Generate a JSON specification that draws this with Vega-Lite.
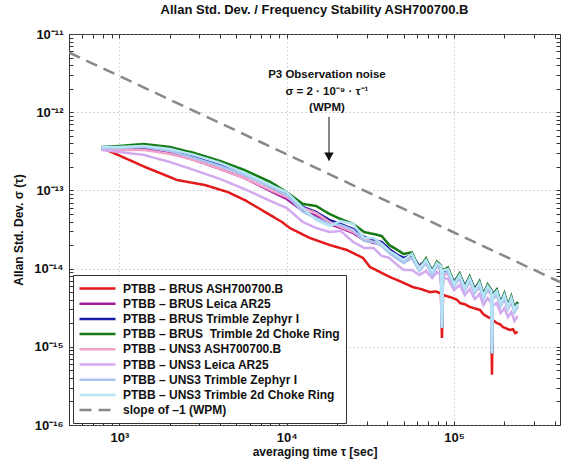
{
 "$schema": "https://vega.github.io/schema/vega-lite/v6.json",
 "width": 491, "height": 391,
 "autosize": {"type": "none"},
 "padding": {"left": 69, "top": 34, "right": 3, "bottom": 40},
 "background": "white",
 "config": {"view": {"stroke": "#333", "strokeWidth": 1}, "font": "Liberation Sans"},
 "title": {"text": "Allan Std. Dev. / Frequency Stability ASH700700.B", "font": "Liberation Sans", "fontSize": 13, "fontWeight": "bold", "color": "#111", "anchor": "middle", "offset": 11},
 "datasets": {
  "series": [
   {"s":"s1","t":780,"v":3.49e-13},{"s":"s1","t":982,"v":2.84e-13},{"s":"s1","t":1425,"v":1.99e-13},{"s":"s1","t":2208,"v":1.36e-13},{"s":"s1","t":3250,"v":1.17e-13},{"s":"s1","t":4460,"v":9.5e-14},{"s":"s1","t":5630,"v":7.5e-14},{"s":"s1","t":7110,"v":5.6e-14},{"s":"s1","t":9370,"v":3.94e-14},{"s":"s1","t":10450,"v":3.3e-14},{"s":"s1","t":13760,"v":2.46e-14},{"s":"s1","t":18130,"v":2.0e-14},{"s":"s1","t":22900,"v":1.73e-14},{"s":"s1","t":28560,"v":1.37e-14},{"s":"s1","t":31430,"v":1.05e-14},{"s":"s1","t":36060,"v":9.05e-15},{"s":"s1","t":41400,"v":7.8e-15},{"s":"s1","t":47500,"v":6.9e-15},{"s":"s1","t":56800,"v":5.8e-15},{"s":"s1","t":63000,"v":5.5e-15},{"s":"s1","t":71800,"v":5.0e-15},{"s":"s1","t":78000,"v":5.1e-15},{"s":"s1","t":83500,"v":4.8e-15},{"s":"s1","t":84700,"v":1.3e-15},{"s":"s1","t":86000,"v":4.6e-15},{"s":"s1","t":92000,"v":4.4e-15},{"s":"s1","t":98600,"v":4.2e-15},{"s":"s1","t":104000,"v":4.0e-15},{"s":"s1","t":108600,"v":3.63e-15},{"s":"s1","t":116000,"v":3.5e-15},{"s":"s1","t":124500,"v":3.23e-15},{"s":"s1","t":133000,"v":3.1e-15},{"s":"s1","t":143000,"v":2.96e-15},{"s":"s1","t":150000,"v":2.6e-15},{"s":"s1","t":159500,"v":2.4e-15},{"s":"s1","t":167000,"v":2.3e-15},{"s":"s1","t":168600,"v":4.4e-16},{"s":"s1","t":170200,"v":2.2e-15},{"s":"s1","t":180400,"v":2.01e-15},{"s":"s1","t":188000,"v":1.95e-15},{"s":"s1","t":196000,"v":1.79e-15},{"s":"s1","t":205000,"v":1.72e-15},{"s":"s1","t":215900,"v":1.64e-15},{"s":"s1","t":225000,"v":1.68e-15},{"s":"s1","t":232000,"v":1.5e-15},{"s":"s1","t":240000,"v":1.55e-15},

   {"s":"s2","t":780,"v":3.39e-13},{"s":"s2","t":1000,"v":3.39e-13},{"s":"s2","t":1400,"v":3.39e-13},{"s":"s2","t":2000,"v":3.01e-13},{"s":"s2","t":2800,"v":2.45e-13},{"s":"s2","t":4000,"v":1.88e-13},{"s":"s2","t":5600,"v":1.44e-13},{"s":"s2","t":8000,"v":9.8e-14},{"s":"s2","t":10000,"v":7.76e-14},{"s":"s2","t":12500,"v":5.46e-14},{"s":"s2","t":15000,"v":4.71e-14},{"s":"s2","t":18000,"v":3.72e-14},{"s":"s2","t":21000,"v":3.31e-14},{"s":"s2","t":25000,"v":2.85e-14},{"s":"s2","t":29000,"v":2.32e-14},{"s":"s2","t":33000,"v":2.13e-14},{"s":"s2","t":37000,"v":2.06e-14},{"s":"s2","t":41000,"v":1.63e-14},{"s":"s2","t":45000,"v":1.45e-14},{"s":"s2","t":50000,"v":1.25e-14},{"s":"s2","t":56000,"v":1.37e-14},{"s":"s2","t":62000,"v":1.02e-14},{"s":"s2","t":68000,"v":1.18e-14},{"s":"s2","t":74000,"v":8.79e-15},{"s":"s2","t":79000,"v":1.08e-14},{"s":"s2","t":83500,"v":9.89e-15},{"s":"s2","t":84700,"v":1.74e-15},{"s":"s2","t":86000,"v":8.53e-15},{"s":"s2","t":88000,"v":8.53e-15},{"s":"s2","t":92000,"v":8.79e-15},{"s":"s2","t":100000,"v":6.17e-15},{"s":"s2","t":108000,"v":7.58e-15},{"s":"s2","t":116000,"v":5.48e-15},{"s":"s2","t":124000,"v":6.94e-15},{"s":"s2","t":133000,"v":5.02e-15},{"s":"s2","t":142000,"v":5.99e-15},{"s":"s2","t":150000,"v":4.33e-15},{"s":"s2","t":159000,"v":5.48e-15},{"s":"s2","t":167000,"v":4.73e-15},{"s":"s2","t":168600,"v":8.3e-16},{"s":"s2","t":170200,"v":4.21e-15},{"s":"s2","t":180000,"v":4.73e-15},{"s":"s2","t":190000,"v":3.42e-15},{"s":"s2","t":200000,"v":4.21e-15},{"s":"s2","t":210000,"v":3.13e-15},{"s":"s2","t":220000,"v":3.85e-15},{"s":"s2","t":230000,"v":2.87e-15},{"s":"s2","t":240000,"v":3.32e-15},

   {"s":"s3","t":780,"v":3.49e-13},{"s":"s3","t":1000,"v":3.59e-13},{"s":"s3","t":1400,"v":3.59e-13},{"s":"s3","t":2000,"v":3.29e-13},{"s":"s3","t":2800,"v":2.68e-13},{"s":"s3","t":4000,"v":2.11e-13},{"s":"s3","t":5600,"v":1.62e-13},{"s":"s3","t":8000,"v":1.11e-13},{"s":"s3","t":10000,"v":8.73e-14},{"s":"s3","t":12500,"v":6.14e-14},{"s":"s3","t":15000,"v":5.30e-14},{"s":"s3","t":18000,"v":4.18e-14},{"s":"s3","t":21000,"v":3.72e-14},{"s":"s3","t":25000,"v":3.21e-14},{"s":"s3","t":29000,"v":2.54e-14},{"s":"s3","t":33000,"v":2.32e-14},{"s":"s3","t":37000,"v":2.19e-14},{"s":"s3","t":41000,"v":1.78e-14},{"s":"s3","t":45000,"v":1.54e-14},{"s":"s3","t":50000,"v":1.37e-14},{"s":"s3","t":56000,"v":1.49e-14},{"s":"s3","t":62000,"v":1.08e-14},{"s":"s3","t":68000,"v":1.29e-14},{"s":"s3","t":74000,"v":9.6e-15},{"s":"s3","t":79000,"v":1.18e-14},{"s":"s3","t":83500,"v":1.08e-14},{"s":"s3","t":84700,"v":1.74e-15},{"s":"s3","t":86000,"v":9.32e-15},{"s":"s3","t":88000,"v":9.32e-15},{"s":"s3","t":92000,"v":9.89e-15},{"s":"s3","t":100000,"v":6.74e-15},{"s":"s3","t":108000,"v":8.53e-15},{"s":"s3","t":116000,"v":5.99e-15},{"s":"s3","t":124000,"v":7.81e-15},{"s":"s3","t":133000,"v":5.48e-15},{"s":"s3","t":142000,"v":6.74e-15},{"s":"s3","t":150000,"v":4.73e-15},{"s":"s3","t":159000,"v":6.17e-15},{"s":"s3","t":167000,"v":5.32e-15},{"s":"s3","t":168600,"v":8.3e-16},{"s":"s3","t":170200,"v":4.73e-15},{"s":"s3","t":180000,"v":5.32e-15},{"s":"s3","t":190000,"v":3.74e-15},{"s":"s3","t":200000,"v":4.73e-15},{"s":"s3","t":210000,"v":3.42e-15},{"s":"s3","t":220000,"v":4.33e-15},{"s":"s3","t":230000,"v":3.13e-15},{"s":"s3","t":240000,"v":3.74e-15},

   {"s":"s4","t":780,"v":3.59e-13},{"s":"s4","t":1000,"v":3.70e-13},{"s":"s4","t":1400,"v":3.92e-13},{"s":"s4","t":2000,"v":3.59e-13},{"s":"s4","t":2800,"v":3.01e-13},{"s":"s4","t":4000,"v":2.38e-13},{"s":"s4","t":5600,"v":1.82e-13},{"s":"s4","t":8000,"v":1.28e-13},{"s":"s4","t":10000,"v":9.5e-14},{"s":"s4","t":12500,"v":6.70e-14},{"s":"s4","t":15000,"v":6.32e-14},{"s":"s4","t":18000,"v":5.0e-14},{"s":"s4","t":21000,"v":4.31e-14},{"s":"s4","t":25000,"v":3.72e-14},{"s":"s4","t":29000,"v":2.94e-14},{"s":"s4","t":33000,"v":2.77e-14},{"s":"s4","t":37000,"v":2.61e-14},{"s":"s4","t":41000,"v":2.0e-14},{"s":"s4","t":45000,"v":1.78e-14},{"s":"s4","t":50000,"v":1.54e-14},{"s":"s4","t":56000,"v":1.61e-14},{"s":"s4","t":62000,"v":1.0e-14},{"s":"s4","t":68000,"v":1.35e-14},{"s":"s4","t":74000,"v":9.2e-15},{"s":"s4","t":79000,"v":1.23e-14},{"s":"s4","t":83500,"v":1.1e-14},{"s":"s4","t":84700,"v":1.74e-15},{"s":"s4","t":86000,"v":9.8e-15},{"s":"s4","t":88000,"v":9.8e-15},{"s":"s4","t":92000,"v":1.03e-14},{"s":"s4","t":100000,"v":6.5e-15},{"s":"s4","t":108000,"v":8.65e-15},{"s":"s4","t":116000,"v":5.75e-15},{"s":"s4","t":124000,"v":7.9e-15},{"s":"s4","t":133000,"v":5.25e-15},{"s":"s4","t":142000,"v":6.85e-15},{"s":"s4","t":150000,"v":4.55e-15},{"s":"s4","t":159000,"v":6.25e-15},{"s":"s4","t":167000,"v":5.3e-15},{"s":"s4","t":168600,"v":8.3e-16},{"s":"s4","t":170200,"v":4.55e-15},{"s":"s4","t":180000,"v":5.4e-15},{"s":"s4","t":190000,"v":3.6e-15},{"s":"s4","t":200000,"v":4.8e-15},{"s":"s4","t":210000,"v":3.3e-15},{"s":"s4","t":220000,"v":4.4e-15},{"s":"s4","t":230000,"v":3.0e-15},{"s":"s4","t":240000,"v":3.75e-15},

   {"s":"s5","t":780,"v":3.39e-13},{"s":"s5","t":1000,"v":3.29e-13},{"s":"s5","t":1400,"v":3.29e-13},{"s":"s5","t":2000,"v":2.93e-13},{"s":"s5","t":2800,"v":2.45e-13},{"s":"s5","t":4000,"v":1.88e-13},{"s":"s5","t":5600,"v":1.44e-13},{"s":"s5","t":8000,"v":1.01e-13},{"s":"s5","t":10000,"v":8.23e-14},{"s":"s5","t":12500,"v":5.96e-14},{"s":"s5","t":15000,"v":5.14e-14},{"s":"s5","t":18000,"v":3.94e-14},{"s":"s5","t":21000,"v":3.40e-14},{"s":"s5","t":25000,"v":2.94e-14},{"s":"s5","t":29000,"v":2.39e-14},{"s":"s5","t":33000,"v":2.19e-14},{"s":"s5","t":37000,"v":2.06e-14},{"s":"s5","t":41000,"v":1.68e-14},{"s":"s5","t":45000,"v":1.45e-14},{"s":"s5","t":50000,"v":1.25e-14},{"s":"s5","t":56000,"v":1.37e-14},{"s":"s5","t":62000,"v":1.05e-14},{"s":"s5","t":68000,"v":1.18e-14},{"s":"s5","t":74000,"v":9.05e-15},{"s":"s5","t":79000,"v":1.08e-14},{"s":"s5","t":83500,"v":9.89e-15},{"s":"s5","t":84700,"v":1.74e-15},{"s":"s5","t":86000,"v":8.53e-15},{"s":"s5","t":88000,"v":8.53e-15},{"s":"s5","t":92000,"v":8.53e-15},{"s":"s5","t":100000,"v":6.17e-15},{"s":"s5","t":108000,"v":7.36e-15},{"s":"s5","t":116000,"v":5.48e-15},{"s":"s5","t":124000,"v":6.74e-15},{"s":"s5","t":133000,"v":5.02e-15},{"s":"s5","t":142000,"v":5.82e-15},{"s":"s5","t":150000,"v":4.33e-15},{"s":"s5","t":159000,"v":5.32e-15},{"s":"s5","t":167000,"v":4.60e-15},{"s":"s5","t":168600,"v":8.3e-16},{"s":"s5","t":170200,"v":4.09e-15},{"s":"s5","t":180000,"v":4.60e-15},{"s":"s5","t":190000,"v":3.42e-15},{"s":"s5","t":200000,"v":4.09e-15},{"s":"s5","t":210000,"v":3.13e-15},{"s":"s5","t":220000,"v":3.74e-15},{"s":"s5","t":230000,"v":2.87e-15},{"s":"s5","t":240000,"v":3.23e-15},

   {"s":"s6","t":780,"v":3.29e-13},{"s":"s6","t":1000,"v":3.10e-13},{"s":"s6","t":1400,"v":2.84e-13},{"s":"s6","t":2000,"v":2.31e-13},{"s":"s6","t":2800,"v":1.82e-13},{"s":"s6","t":4000,"v":1.40e-13},{"s":"s6","t":5600,"v":1.04e-13},{"s":"s6","t":8000,"v":7.32e-14},{"s":"s6","t":10000,"v":5.96e-14},{"s":"s6","t":12500,"v":3.94e-14},{"s":"s6","t":15000,"v":3.31e-14},{"s":"s6","t":18000,"v":2.94e-14},{"s":"s6","t":21000,"v":3.03e-14},{"s":"s6","t":25000,"v":2.19e-14},{"s":"s6","t":29000,"v":1.84e-14},{"s":"s6","t":33000,"v":1.84e-14},{"s":"s6","t":37000,"v":1.45e-14},{"s":"s6","t":41000,"v":1.37e-14},{"s":"s6","t":45000,"v":1.15e-14},{"s":"s6","t":50000,"v":9.6e-15},{"s":"s6","t":56000,"v":9.6e-15},{"s":"s6","t":62000,"v":8.28e-15},{"s":"s6","t":68000,"v":9.32e-15},{"s":"s6","t":74000,"v":7.58e-15},{"s":"s6","t":79000,"v":9.05e-15},{"s":"s6","t":83500,"v":8.28e-15},{"s":"s6","t":84700,"v":1.74e-15},{"s":"s6","t":86000,"v":7.58e-15},{"s":"s6","t":88000,"v":7.58e-15},{"s":"s6","t":92000,"v":7.36e-15},{"s":"s6","t":100000,"v":5.32e-15},{"s":"s6","t":108000,"v":6.17e-15},{"s":"s6","t":116000,"v":4.60e-15},{"s":"s6","t":124000,"v":5.48e-15},{"s":"s6","t":133000,"v":4.09e-15},{"s":"s6","t":142000,"v":4.73e-15},{"s":"s6","t":150000,"v":3.42e-15},{"s":"s6","t":159000,"v":4.21e-15},{"s":"s6","t":167000,"v":3.63e-15},{"s":"s6","t":168600,"v":8.3e-16},{"s":"s6","t":170200,"v":3.32e-15},{"s":"s6","t":180000,"v":3.63e-15},{"s":"s6","t":190000,"v":2.70e-15},{"s":"s6","t":200000,"v":3.13e-15},{"s":"s6","t":210000,"v":2.40e-15},{"s":"s6","t":220000,"v":2.78e-15},{"s":"s6","t":230000,"v":2.14e-15},{"s":"s6","t":240000,"v":2.48e-15},

   {"s":"s7","t":780,"v":3.49e-13},{"s":"s7","t":1000,"v":3.49e-13},{"s":"s7","t":1400,"v":3.59e-13},{"s":"s7","t":2000,"v":3.19e-13},{"s":"s7","t":2800,"v":2.60e-13},{"s":"s7","t":4000,"v":2.05e-13},{"s":"s7","t":5600,"v":1.57e-13},{"s":"s7","t":8000,"v":1.11e-13},{"s":"s7","t":10000,"v":8.73e-14},{"s":"s7","t":12500,"v":5.30e-14},{"s":"s7","t":15000,"v":4.44e-14},{"s":"s7","t":18000,"v":3.72e-14},{"s":"s7","t":21000,"v":3.61e-14},{"s":"s7","t":25000,"v":3.12e-14},{"s":"s7","t":29000,"v":2.26e-14},{"s":"s7","t":33000,"v":2.19e-14},{"s":"s7","t":37000,"v":1.95e-14},{"s":"s7","t":41000,"v":1.58e-14},{"s":"s7","t":45000,"v":1.37e-14},{"s":"s7","t":50000,"v":1.18e-14},{"s":"s7","t":56000,"v":1.37e-14},{"s":"s7","t":62000,"v":9.32e-15},{"s":"s7","t":68000,"v":1.18e-14},{"s":"s7","t":74000,"v":8.28e-15},{"s":"s7","t":79000,"v":1.08e-14},{"s":"s7","t":83500,"v":9.89e-15},{"s":"s7","t":84700,"v":1.74e-15},{"s":"s7","t":86000,"v":8.79e-15},{"s":"s7","t":88000,"v":8.79e-15},{"s":"s7","t":92000,"v":9.05e-15},{"s":"s7","t":100000,"v":5.99e-15},{"s":"s7","t":108000,"v":7.58e-15},{"s":"s7","t":116000,"v":5.32e-15},{"s":"s7","t":124000,"v":6.94e-15},{"s":"s7","t":133000,"v":4.87e-15},{"s":"s7","t":142000,"v":5.99e-15},{"s":"s7","t":150000,"v":4.09e-15},{"s":"s7","t":159000,"v":5.48e-15},{"s":"s7","t":167000,"v":4.73e-15},{"s":"s7","t":168600,"v":8.3e-16},{"s":"s7","t":170200,"v":4.09e-15},{"s":"s7","t":180000,"v":4.73e-15},{"s":"s7","t":190000,"v":3.32e-15},{"s":"s7","t":200000,"v":4.21e-15},{"s":"s7","t":210000,"v":3.04e-15},{"s":"s7","t":220000,"v":3.85e-15},{"s":"s7","t":230000,"v":2.78e-15},{"s":"s7","t":240000,"v":3.32e-15},

   {"s":"s8","t":780,"v":3.59e-13},{"s":"s8","t":1000,"v":3.59e-13},{"s":"s8","t":1400,"v":3.70e-13},{"s":"s8","t":2000,"v":3.39e-13},{"s":"s8","t":2800,"v":2.84e-13},{"s":"s8","t":4000,"v":2.25e-13},{"s":"s8","t":5600,"v":1.67e-13},{"s":"s8","t":8000,"v":1.17e-13},{"s":"s8","t":10000,"v":9.5e-14},{"s":"s8","t":12500,"v":5.96e-14},{"s":"s8","t":15000,"v":4.18e-14},{"s":"s8","t":18000,"v":3.51e-14},{"s":"s8","t":21000,"v":4.06e-14},{"s":"s8","t":25000,"v":3.72e-14},{"s":"s8","t":29000,"v":2.46e-14},{"s":"s8","t":33000,"v":2.46e-14},{"s":"s8","t":37000,"v":2.06e-14},{"s":"s8","t":41000,"v":1.68e-14},{"s":"s8","t":45000,"v":1.49e-14},{"s":"s8","t":50000,"v":1.29e-14},{"s":"s8","t":56000,"v":1.54e-14},{"s":"s8","t":62000,"v":9.89e-15},{"s":"s8","t":68000,"v":1.29e-14},{"s":"s8","t":74000,"v":9.05e-15},{"s":"s8","t":79000,"v":1.18e-14},{"s":"s8","t":83500,"v":1.08e-14},{"s":"s8","t":84700,"v":1.74e-15},{"s":"s8","t":86000,"v":9.6e-15},{"s":"s8","t":88000,"v":9.6e-15},{"s":"s8","t":92000,"v":9.89e-15},{"s":"s8","t":100000,"v":6.35e-15},{"s":"s8","t":108000,"v":8.28e-15},{"s":"s8","t":116000,"v":5.65e-15},{"s":"s8","t":124000,"v":7.58e-15},{"s":"s8","t":133000,"v":5.17e-15},{"s":"s8","t":142000,"v":6.54e-15},{"s":"s8","t":150000,"v":4.46e-15},{"s":"s8","t":159000,"v":5.99e-15},{"s":"s8","t":167000,"v":5.17e-15},{"s":"s8","t":168600,"v":8.3e-16},{"s":"s8","t":170200,"v":4.46e-15},{"s":"s8","t":180000,"v":5.17e-15},{"s":"s8","t":190000,"v":3.53e-15},{"s":"s8","t":200000,"v":4.60e-15},{"s":"s8","t":210000,"v":3.23e-15},{"s":"s8","t":220000,"v":4.21e-15},{"s":"s8","t":230000,"v":2.95e-15},{"s":"s8","t":240000,"v":3.53e-15},

   {"s":"s9","t":500,"v":5.8e-12},{"s":"s9","t":430000,"v":6.74e-15}
  ],
  "notes": [
   {"t":17400,"v":2.99e-12,"txt":"P3 Observation noise"},
   {"t":17400,"v":1.81e-12,"txt":"σ = 2 · 10⁻⁹ · τ⁻¹"},
   {"t":17400,"v":1.13e-12,"txt":"(WPM)"}
  ],
  "arrow": [{"t":17900,"v":8.69e-13,"v2":2.4e-13}],
  "head": [{"t":17900,"v":2.7e-13}]
 },
 "layer": [
  {
   "data": {"name": "series"},
   "mark": {"type": "line", "strokeWidth": 2.5, "clip": true},
   "encoding": {
    "x": {"field": "t", "type": "quantitative",
     "scale": {"type": "log", "domain": [500, 430000], "nice": false},
     "axis": {"orient": "bottom", "values": [1000, 10000, 100000],
      "labelExpr": "datum.value < 2000 ? '10³' : datum.value < 20000 ? '10⁴' : '10⁵'",
      "ticks": false, "domain": false, "grid": true, "gridDash": [1, 3], "gridColor": "#9a9a9a", "gridWidth": 0.8,
      "labelFont": "Liberation Sans", "labelFontSize": 13, "labelFontWeight": "bold", "labelColor": "#111", "labelPadding": 6,
      "title": "averaging time τ [sec]", "titleFont": "Liberation Sans", "titleFontSize": 12, "titleFontWeight": "bold", "titleColor": "#111", "titlePadding": 2}},
    "y": {"field": "v", "type": "quantitative",
     "scale": {"type": "log", "domain": [1e-16, 1e-11], "nice": false},
     "axis": {"orient": "left", "values": [1e-16, 1e-15, 1e-14, 1e-13, 1e-12, 1e-11],
      "labelExpr": "datum.value < 2e-16 ? '10⁻¹⁶' : datum.value < 2e-15 ? '10⁻¹⁵' : datum.value < 2e-14 ? '10⁻¹⁴' : datum.value < 2e-13 ? '10⁻¹³' : datum.value < 2e-12 ? '10⁻¹²' : '10⁻¹¹'",
      "ticks": false, "domain": false, "grid": true, "gridDash": [1, 3], "gridColor": "#9a9a9a", "gridWidth": 0.8,
      "labelFont": "Liberation Sans", "labelFontSize": 13, "labelFontWeight": "bold", "labelColor": "#111", "labelPadding": 6,
      "title": "Allan Std. Dev. σ (τ)", "titleFont": "Liberation Sans", "titleFontSize": 12, "titleFontWeight": "bold", "titleColor": "#111", "titlePadding": 8}},
    "color": {"field": "s", "type": "nominal",
     "scale": {"domain": ["s1", "s2", "s3", "s4", "s5", "s6", "s7", "s8", "s9"],
      "range": ["#e3191c", "#a01c9e", "#1a1aa6", "#147a14", "#f2a3c9", "#d3aaf0", "#a9c3ee", "#b5e4f6", "#888888"]},
     "legend": {"orient": "none", "legendX": 4, "legendY": 241, "title": null, "direction": "vertical",
      "labelFont": "Liberation Sans", "labelFontSize": 12, "labelFontWeight": "bold", "labelColor": "#111", "labelLimit": 400,
      "symbolType": "M-3,0H3", "symbolSize": 144, "symbolStrokeWidth": 2.5, "symbolOffset": 11, "labelOffset": 18, "rowPadding": 1.2, "padding": 6,
      "strokeColor": "#333", "fillColor": "white",
      "labelExpr": "datum.value == 's1' ? 'PTBB – BRUS ASH700700.B' : datum.value == 's2' ? 'PTBB – BRUS Leica AR25' : datum.value == 's3' ? 'PTBB – BRUS Trimble Zephyr I' : datum.value == 's4' ? 'PTBB – BRUS \u00a0Trimble 2d Choke Ring' : datum.value == 's5' ? 'PTBB – UNS3 ASH700700.B' : datum.value == 's6' ? 'PTBB – UNS3 Leica AR25' : datum.value == 's7' ? 'PTBB – UNS3 Trimble Zephyr I' : datum.value == 's8' ? 'PTBB – UNS3 Trimble 2d Choke Ring' : 'slope of –1 (WPM)'"}},
    "strokeDash": {"field": "s", "type": "nominal",
     "scale": {"domain": ["s1", "s2", "s3", "s4", "s5", "s6", "s7", "s8", "s9"],
      "range": [[1, 0], [1, 0], [1, 0], [1, 0], [1, 0], [1, 0], [1, 0], [1, 0], [12, 7]]},
     "legend": {"orient": "none", "legendX": 4, "legendY": 241, "title": null, "direction": "vertical",
      "labelFont": "Liberation Sans", "labelFontSize": 12, "labelFontWeight": "bold", "labelColor": "#111", "labelLimit": 400,
      "symbolType": "M-3,0H3", "symbolSize": 144, "symbolStrokeWidth": 2.5, "symbolOffset": 11, "labelOffset": 18, "rowPadding": 1.2, "padding": 6,
      "strokeColor": "#333", "fillColor": "white",
      "labelExpr": "datum.value == 's1' ? 'PTBB – BRUS ASH700700.B' : datum.value == 's2' ? 'PTBB – BRUS Leica AR25' : datum.value == 's3' ? 'PTBB – BRUS Trimble Zephyr I' : datum.value == 's4' ? 'PTBB – BRUS \u00a0Trimble 2d Choke Ring' : datum.value == 's5' ? 'PTBB – UNS3 ASH700700.B' : datum.value == 's6' ? 'PTBB – UNS3 Leica AR25' : datum.value == 's7' ? 'PTBB – UNS3 Trimble Zephyr I' : datum.value == 's8' ? 'PTBB – UNS3 Trimble 2d Choke Ring' : 'slope of –1 (WPM)'"}}
   }
  },
  {
   "data": {"name": "notes"},
   "mark": {"type": "text", "font": "Liberation Sans", "fontSize": 11.5, "fontWeight": "bold", "color": "#111", "align": "center", "baseline": "middle"},
   "encoding": {
    "x": {"field": "t", "type": "quantitative", "scale": {"type": "log", "domain": [500, 430000], "nice": false}, "axis": null},
    "y": {"field": "v", "type": "quantitative", "scale": {"type": "log", "domain": [1e-16, 1e-11], "nice": false}, "axis": null},
    "text": {"field": "txt"}
   }
  },
  {
   "data": {"name": "arrow"},
   "mark": {"type": "rule", "color": "#111", "strokeWidth": 1},
   "encoding": {
    "x": {"field": "t", "type": "quantitative", "scale": {"type": "log", "domain": [500, 430000], "nice": false},
     "axis": {"orient": "bottom", "values": [500,600,700,800,900,1000,2000,3000,4000,5000,6000,7000,8000,9000,10000,20000,30000,40000,50000,60000,70000,80000,90000,100000,200000,300000,400000],
      "labels": false, "tickSize": -4, "tickColor": "#333", "domain": false, "grid": false, "title": null}},
    "y": {"field": "v", "type": "quantitative", "scale": {"type": "log", "domain": [1e-16, 1e-11], "nice": false},
     "axis": {"orient": "left", "values": [1e-16,2e-16,3e-16,4e-16,5e-16,6e-16,7e-16,8e-16,9e-16,1e-15,2e-15,3e-15,4e-15,5e-15,6e-15,7e-15,8e-15,9e-15,1e-14,2e-14,3e-14,4e-14,5e-14,6e-14,7e-14,8e-14,9e-14,1e-13,2e-13,3e-13,4e-13,5e-13,6e-13,7e-13,8e-13,9e-13,1e-12,2e-12,3e-12,4e-12,5e-12,6e-12,7e-12,8e-12,9e-12,1e-11],
      "labels": false, "tickSize": -4, "tickColor": "#333", "domain": false, "grid": false, "title": null}},
    "y2": {"field": "v2"}
   }
  },
  {
   "data": {"name": "head"},
   "mark": {"type": "point", "shape": "triangle-down", "filled": true, "color": "#111", "size": 90, "opacity": 1},
   "encoding": {
    "x": {"field": "t", "type": "quantitative", "scale": {"type": "log", "domain": [500, 430000], "nice": false},
     "axis": {"orient": "top", "values": [500,600,700,800,900,1000,2000,3000,4000,5000,6000,7000,8000,9000,10000,20000,30000,40000,50000,60000,70000,80000,90000,100000,200000,300000,400000],
      "labels": false, "tickSize": -4, "tickColor": "#333", "domain": false, "grid": false, "title": null}},
    "y": {"field": "v", "type": "quantitative", "scale": {"type": "log", "domain": [1e-16, 1e-11], "nice": false},
     "axis": {"orient": "right", "values": [1e-16,2e-16,3e-16,4e-16,5e-16,6e-16,7e-16,8e-16,9e-16,1e-15,2e-15,3e-15,4e-15,5e-15,6e-15,7e-15,8e-15,9e-15,1e-14,2e-14,3e-14,4e-14,5e-14,6e-14,7e-14,8e-14,9e-14,1e-13,2e-13,3e-13,4e-13,5e-13,6e-13,7e-13,8e-13,9e-13,1e-12,2e-12,3e-12,4e-12,5e-12,6e-12,7e-12,8e-12,9e-12,1e-11],
      "labels": false, "tickSize": -4, "tickColor": "#333", "domain": false, "grid": false, "title": null}}
   }
  }
 ],
 "resolve": {"axis": {"x": "independent", "y": "independent"}}
}
